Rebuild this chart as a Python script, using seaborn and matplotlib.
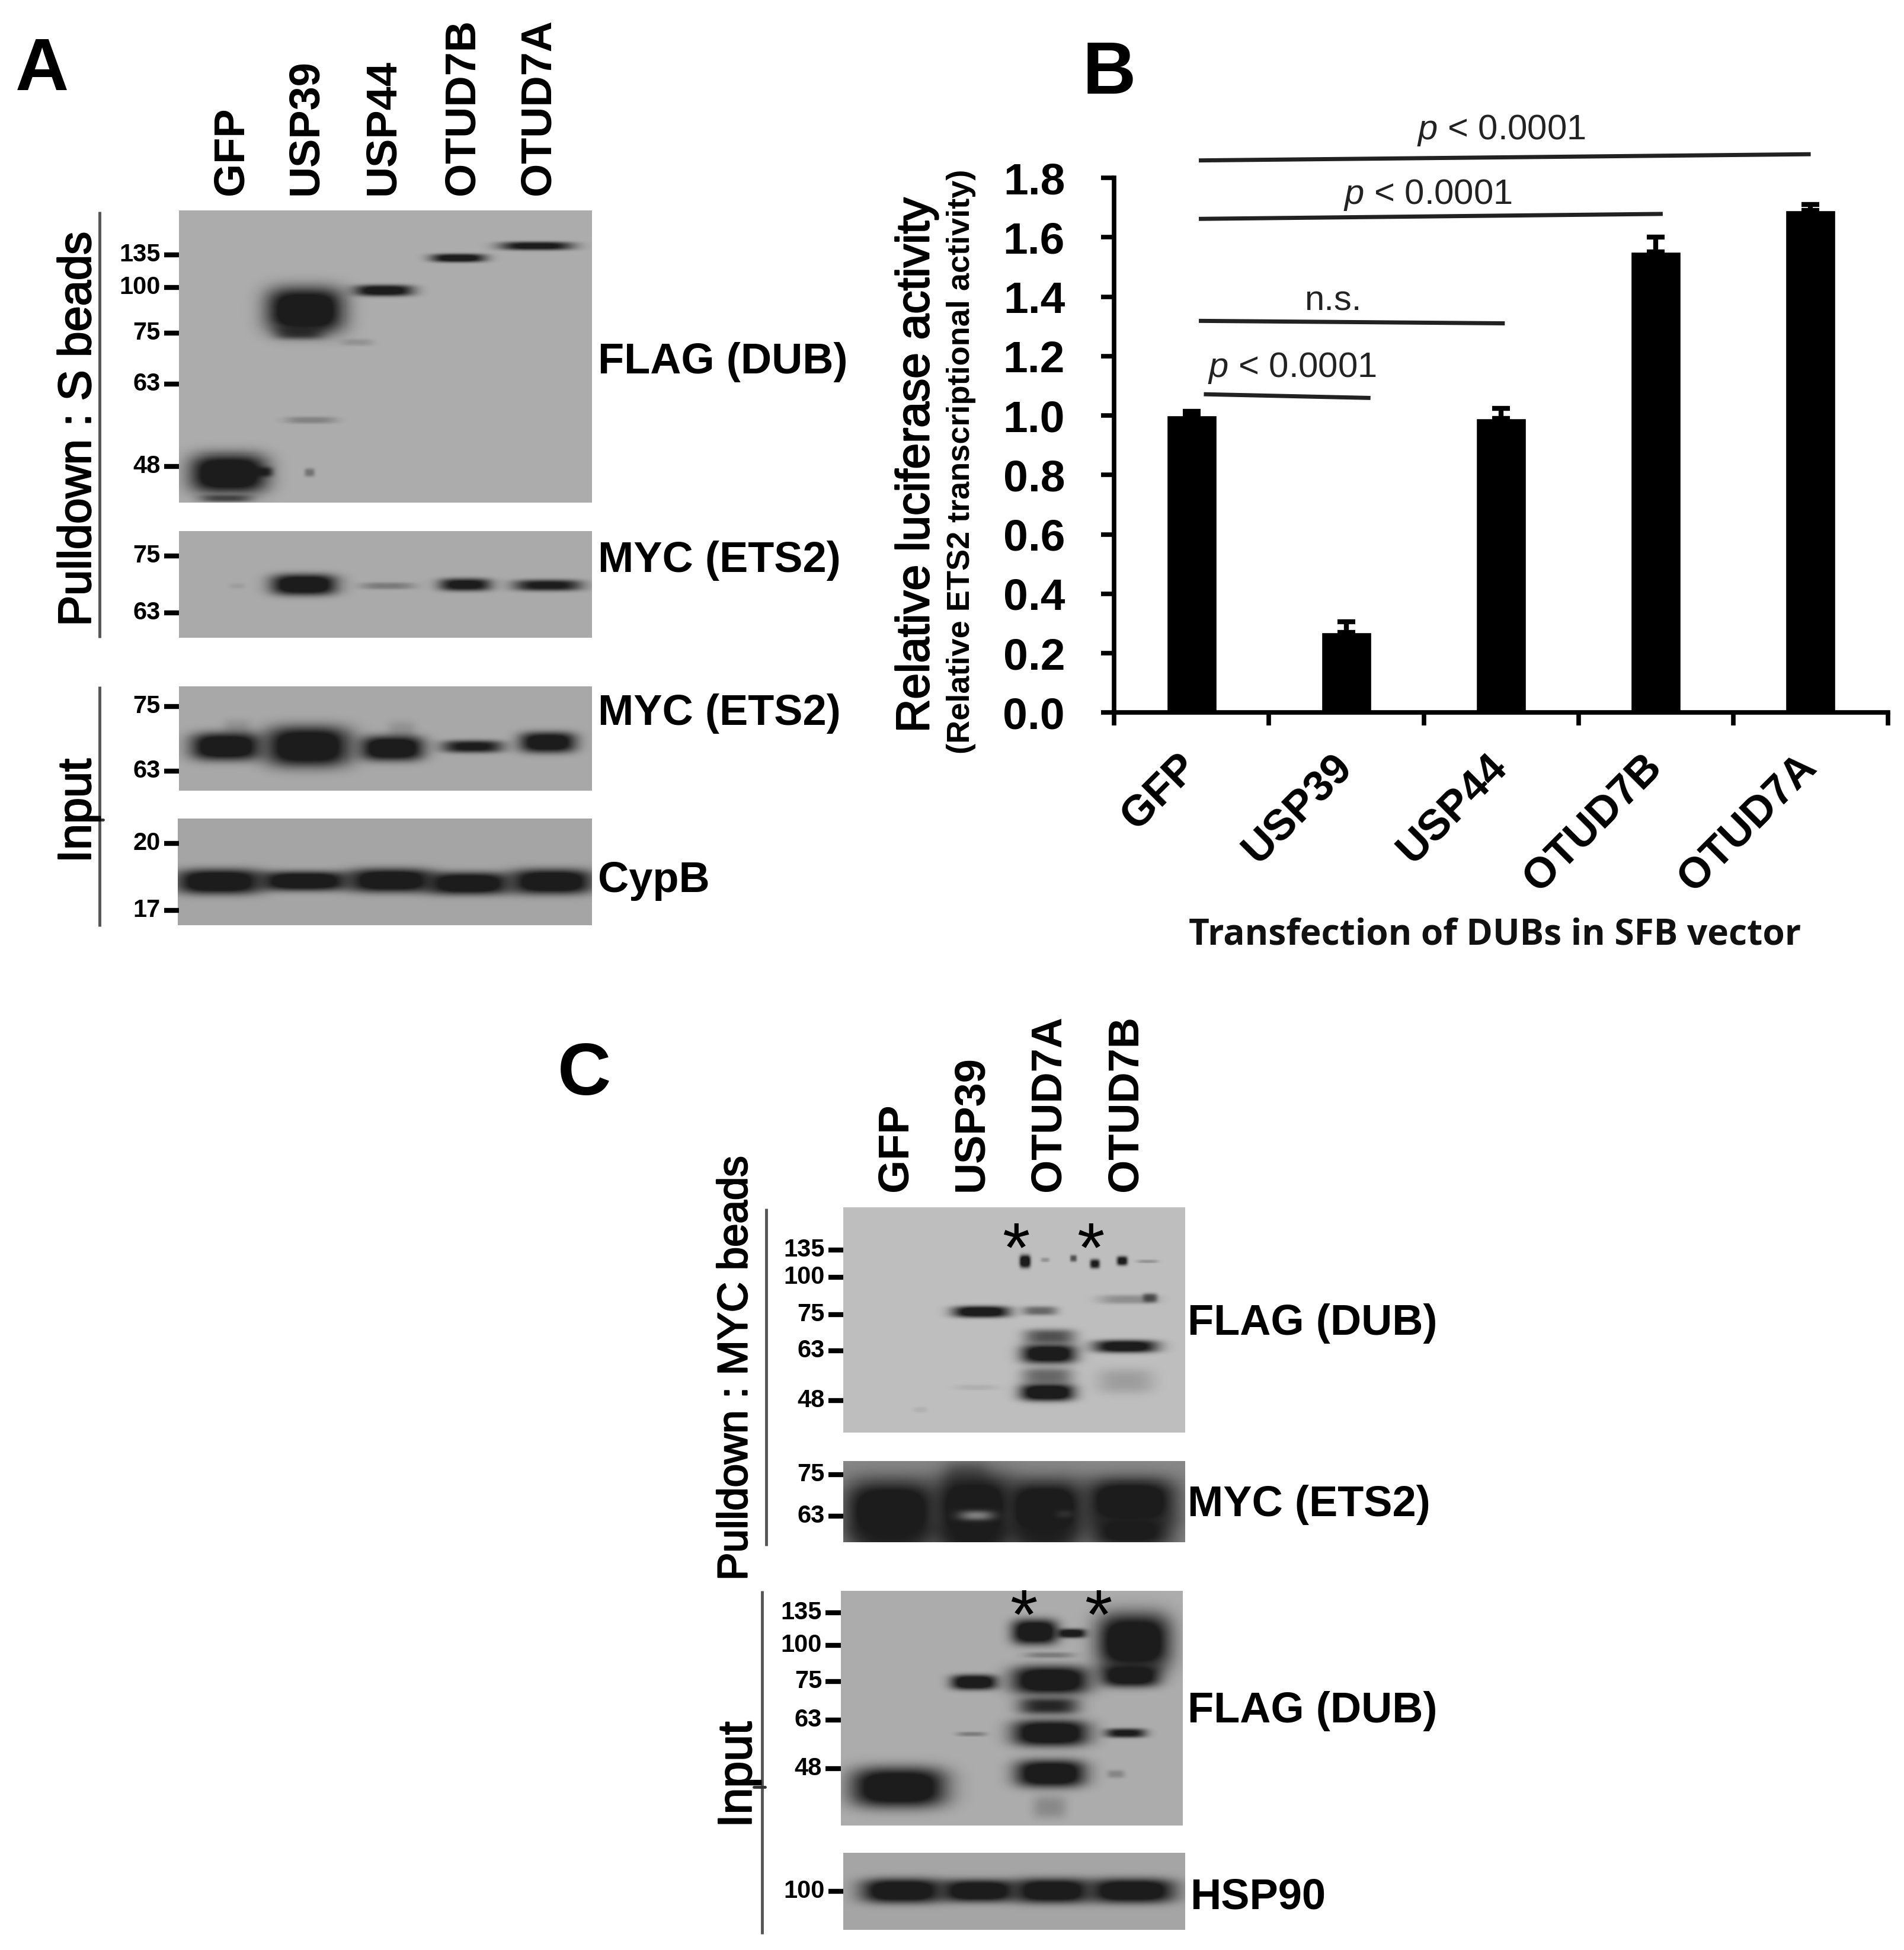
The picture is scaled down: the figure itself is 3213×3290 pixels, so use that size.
import numpy as np
import pandas as pd
import matplotlib
matplotlib.use("Agg")
import matplotlib.pyplot as plt
import matplotlib.patheffects as pe
import seaborn as sns

sns.set_theme(style="white")
plt.rcParams['font.family'] = ['Liberation Sans', 'DejaVu Sans']
plt.rcParams['mathtext.fontset'] = 'custom'
plt.rcParams['mathtext.it'] = 'Liberation Sans:italic'
plt.rcParams['mathtext.rm'] = 'Liberation Sans'

# ---------- bar chart data ----------
dubs = ["GFP", "USP39", "USP44", "OTUD7B", "OTUD7A"]
activity = [1.00, 0.27, 0.99, 1.55, 1.69]
activity_err = [0.015, 0.035, 0.035, 0.05, 0.02]
y_ticks = [0.0, 0.2, 0.4, 0.6, 0.8, 1.0, 1.2, 1.4, 1.6, 1.8]

# ---------- blot bands: (centre x, centre y, half width, half height, strength) ----------
bands_a1 = [(405, 785, 68, 28, 1.0), (462, 782, 20, 7, .8), (400, 826, 45, 5, .5),
            (540, 515, 68, 33, 1.0), (530, 552, 42, 9, .6), (550, 697, 45, 5, .22),
            (548, 783, 9, 6, .3), (632, 568, 28, 5, .13),
            (678, 482, 52, 8, .9), (810, 428, 48, 6, .9), (948, 408, 64, 6, .85)]
bands_a2 = [(538, 966, 58, 15, 1.0), (685, 968, 48, 5, .25), (822, 966, 46, 9, .85),
            (968, 967, 60, 8, .8), (420, 968, 14, 4, .07)]
bands_a3 = [(400, 1235, 62, 20, 1.0), (545, 1235, 74, 29, 1.0), (693, 1238, 56, 18, 1.0),
            (835, 1235, 54, 9, .8), (968, 1228, 50, 15, .95),
            (420, 1205, 25, 14, .12), (710, 1208, 25, 14, .12)]
bands_a4 = [(390, 1458, 76, 18, 1.0), (540, 1457, 78, 14, 1.0), (692, 1456, 74, 17, 1.0),
            (828, 1461, 74, 16, 1.0), (975, 1458, 72, 18, 1.0)]
bands_c1 = [(550, 280, 58, 10, .95), (640, 178, 11, 11, 1.0), (680, 175, 9, 4, .2),
            (738, 172, 7, 6, .5), (782, 183, 10, 8, .8), (838, 177, 11, 8, .85),
            (890, 178, 22, 3, .2), (670, 278, 35, 8, .4), (690, 330, 52, 13, .5),
            (688, 365, 56, 17, .95), (685, 410, 52, 15, .4), (685, 443, 55, 15, 1.0),
            (845, 350, 66, 11, .9), (850, 255, 60, 8, .22), (895, 252, 15, 8, .5),
            (845, 420, 58, 22, .15), (540, 433, 45, 5, .07), (425, 478, 15, 5, .06)]
bands_c2 = [(365, 680, 96, 56, 1.0), (535, 675, 80, 62, 1.0), (680, 675, 80, 52, 1.0),
            (855, 660, 94, 42, 1.0), (855, 720, 88, 30, .85), (520, 610, 45, 28, .3),
            (365, 730, 80, 22, .7), (535, 730, 70, 22, .8), (680, 730, 70, 22, .7)]
holes_c2 = [(540, 688, 36, 10, .6), (720, 685, 18, 8, .12)]
bands_c3 = [(380, 1240, 98, 35, 1.0), (535, 1027, 47, 13, 1.0), (530, 1132, 30, 4, .25),
            (660, 925, 47, 22, 1.0), (735, 928, 30, 8, .9), (692, 1023, 80, 25, 1.0),
            (688, 1075, 62, 15, .7), (692, 1130, 78, 23, 1.0), (692, 1212, 72, 24, 1.0),
            (690, 1280, 35, 20, .18), (690, 972, 50, 5, .25), (862, 945, 75, 50, 1.0),
            (855, 1013, 60, 20, 1.0), (845, 1130, 42, 8, .8), (825, 1213, 18, 7, .2)]
bands_c4 = [(388, 1450, 84, 22, 1.0), (545, 1450, 78, 20, 1.0), (695, 1450, 78, 22, 1.0),
            (858, 1450, 88, 22, 1.0)]

# ---------- blot frames ----------
panels = [
    # frame on page (x0,x1,y0,y1), same frame in band units, background, bands, light spots
    ((144, 476, 169, 404), (318, 1045, 350, 832), 172, bands_a1, []),
    ((144, 476, 427, 513), (318, 1045, 878, 1053), 170, bands_a2, []),
    ((144, 476, 552, 636), (318, 1045, 1135, 1308), 168, bands_a3, []),
    ((143, 476, 658, 744), (318, 1045, 1353, 1530), 165, bands_a4, []),
    ((678, 953, 971, 1152), (268, 966, 70, 523), 190, bands_c1, []),
    ((678, 953, 1175, 1240), (268, 966, 578, 742), 135, bands_c2, holes_c2),
    ((676, 951, 1279, 1468), (263, 961, 843, 1316), 172, bands_c3, []),
    ((678, 953, 1490, 1552), (268, 966, 1372, 1530), 165, bands_c4, []),
]

# ---------- labels ----------
lanes_a = ["GFP", "USP39", "USP44", "OTUD7B", "OTUD7A"]
lanes_c = ["GFP", "USP39", "OTUD7A", "OTUD7B"]
mw_labels = [
    (144, [("135", 205), ("100", 231), ("75", 268), ("63", 309), ("48", 375),
           ("75", 447), ("63", 493), ("75", 568), ("63", 620), ("20", 678), ("17", 732)]),
    (678, [("135", 1005), ("100", 1027), ("75", 1057), ("63", 1086), ("48", 1126),
           ("75", 1186), ("63", 1219), ("100", 1521)]),
    (676, [("135", 1297), ("100", 1323), ("75", 1352), ("63", 1383), ("48", 1422)]),
]
right_labels = [("FLAG (DUB)", 481, 291), ("MYC (ETS2)", 481, 451), ("MYC (ETS2)", 481, 574),
                ("CypB", 481, 708), ("FLAG (DUB)", 955, 1064), ("MYC (ETS2)", 955, 1210),
                ("FLAG (DUB)", 955, 1376), ("HSP90", 957, 1526)]

SX, SY = 1531.0, 1568.0
fig = plt.figure(figsize=(32.13, 32.90), dpi=100, facecolor="white")


def frac(x0, x1, y0, y1):
    return [x0 / SX, 1 - y1 / SY, (x1 - x0) / SX, (y1 - y0) / SY]


def blot_grid(page, unit, bg, bands, holes, dark=28):
    nx = int((page[1] - page[0]) * 1.05)
    ny = int((page[3] - page[2]) * 1.05)
    X, Y = np.meshgrid(np.linspace(unit[0], unit[1], nx), np.linspace(unit[2], unit[3], ny))
    keep = np.ones_like(X)
    for cx, cy, w, h, s in bands:
        d = s * np.exp(-np.abs((X - cx) / w) ** 3.4) * np.exp(-np.abs((Y - cy) / (h * 1.15)) ** 3.0)
        keep *= 1 - np.clip(d * 1.35, 0, 1)
    img = dark + (bg - dark) * keep
    for cx, cy, w, h, s in holes:
        d = s * np.exp(-np.abs((X - cx) / w) ** 2.4) * np.exp(-np.abs((Y - cy) / h) ** 2.4)
        img = img + (190 - img) * d
    return img


for page, unit, bg, bands, holes in panels:
    axb = fig.add_axes(frac(*page))
    sns.heatmap(blot_grid(page, unit, bg, bands, holes), ax=axb, cmap="gray", vmin=0, vmax=255,
                cbar=False, xticklabels=False, yticklabels=False)
    axb.set_xlabel("")
    axb.set_ylabel("")

# ---------- bar chart ----------
axc = fig.add_axes(frac(896, 1518, 143, 573))
df = pd.DataFrame({"dub": dubs, "activity": activity})
sns.barplot(data=df, x="dub", y="activity", ax=axc, color="black", width=0.32, saturation=1, errorbar=None)
axc.errorbar(range(len(dubs)), activity, yerr=[np.zeros(5), activity_err], fmt="none", ecolor="black",
             elinewidth=6, capsize=11, capthick=6, clip_on=False)
axc.set_xlim(-0.5, 4.5)
axc.set_ylim(0, 1.8)
axc.set_yticks(y_ticks)
axc.set_yticklabels([f"{v:.1f}" for v in y_ticks], fontsize=54, fontweight="bold", color="black")
axc.set_xticks(np.arange(5) - 0.097)
axc.set_xticklabels(dubs, rotation=45, ha="right", rotation_mode="anchor", fontsize=52,
                    fontweight="bold", color="black")
axc.set_xticks(np.arange(-0.5, 5, 1), minor=True)
axc.tick_params(axis="x", which="major", length=0, pad=41)
axc.tick_params(axis="x", which="minor", length=16, width=5.5, color="black", bottom=True)
axc.tick_params(axis="y", length=16, width=5.5, color="black", left=True, pad=44)
axc.set_xlabel("")
axc.set_ylabel("")
for side in ["top", "right"]:
    axc.spines[side].set_visible(False)
for side in ["left", "bottom"]:
    axc.spines[side].set_linewidth(5.5)
    axc.spines[side].set_color("black")

# ---------- page overlay for annotations ----------
ov = fig.add_axes([0, 0, 1, 1], zorder=10)
ov.set_xlim(0, SX)
ov.set_ylim(SY, 0)
ov.axis("off")
ov.patch.set_alpha(0)

for letter, x, y in [("A", 34, 57), ("B", 892, 60), ("C", 470, 865)]:
    ov.text(x, y, letter, fontsize=90, fontweight="bold", ha="center", va="center", color="black")

for name, x in zip(lanes_a, [186, 246, 308, 372, 433]):
    ov.text(x, 157, name, rotation=90, fontsize=52, fontweight="bold", ha="center", va="bottom", color="black")
for name, x in zip(lanes_c, [720, 781, 843, 905]):
    ov.text(x, 958, name, rotation=90, fontsize=52, fontweight="bold", ha="center", va="bottom", color="black")

stroke = [pe.withStroke(linewidth=1.7, foreground="black")]
for txt, x, y, fs in [("Pulldown : S beads", 63, 345, 56), ("Input", 63, 652, 57),
                      ("Pulldown : MYC beads", 592, 1100, 51), ("Input", 594, 1427, 58)]:
    ov.text(x, y, txt, rotation=90, fontsize=fs, ha="center", va="center", color="black", path_effects=stroke)

for edge, items in mw_labels:
    for lab, y in items:
        ov.plot([edge - 12, edge], [y, y], color="black", lw=6, solid_capstyle="butt")
        ov.text(edge - 15, y, lab, fontsize=30, fontweight="bold", ha="right", va="center", color="black")

for (x0, y0, x1, y1) in [(80, 170, 80, 513), (80, 552, 80, 745), (616, 972, 616, 1243), (613, 1279, 613, 1555)]:
    ov.plot([x0, x1], [y0, y1], color="#555555", lw=3.5, solid_capstyle="butt")
ov.plot([72, 83], [659, 659], color="#333333", lw=3.5)
ov.plot([606, 615], [1437, 1437], color="#333333", lw=3.5)

for txt, x, y in right_labels:
    ov.text(x, y, txt, fontsize=52, fontweight="bold", ha="left", va="center", color="black")

for x, y in [(817, 1008), (877, 1008), (823, 1303), (883, 1303)]:
    ov.text(x, y, "*", fontsize=86, ha="center", va="center", color="black")

for (x0, y0, x1, y1) in [(964, 129, 1456, 124), (964, 176, 1337, 172), (964, 258, 1210, 260), (968, 317, 1102, 320)]:
    ov.plot([x0, x1], [y0, y1], color="#222222", lw=5, solid_capstyle="butt")
for txt, x, y in [("$\\it{p}$ < 0.0001", 1207, 105), ("$\\it{p}$ < 0.0001", 1148, 157),
                  ("n.s.", 1072, 242), ("$\\it{p}$ < 0.0001", 1039, 296)]:
    ov.text(x, y, txt, fontsize=43, ha="center", va="center", color="#222222")

ov.text(737, 374, "Relative luciferase activity", rotation=90, fontsize=56.5, ha="center", va="center",
        color="black", path_effects=stroke)
ov.text(773, 371, "(Relative ETS2 transcriptional activity)", rotation=90, fontsize=39, fontweight="bold",
        ha="center", va="center", color="black")
ov.text(1202, 752, "Transfection of DUBs in SFB vector", fontsize=43.5, fontweight="bold", family="Open Sans",
        ha="center", va="center", color="#111111")

fig.savefig("out.png", dpi=100, facecolor="white")
